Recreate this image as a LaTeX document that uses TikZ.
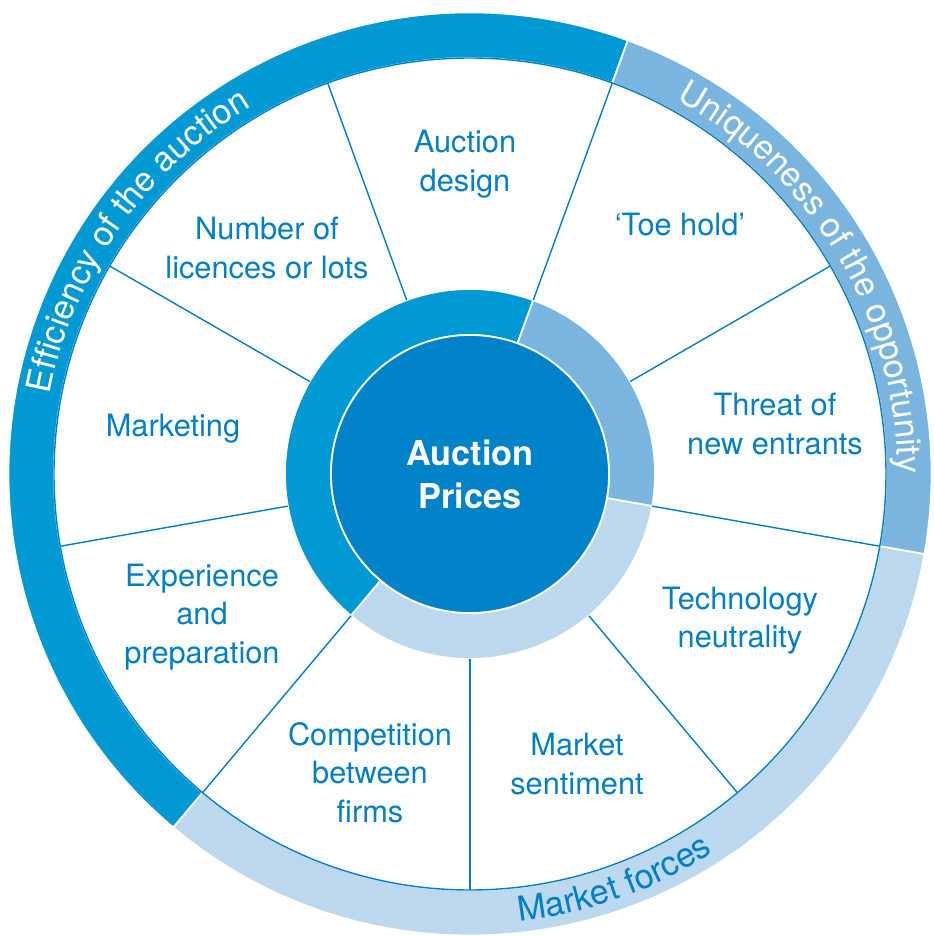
\documentclass[tikz,border=0pt]{standalone}
\usepackage{fontspec}
\setmainfont{TeX Gyre Heros}
\usepackage{tikz}
\usetikzlibrary{decorations.text}
\definecolor{ringdark}{RGB}{0, 153, 212}
\definecolor{ringmid}{RGB}{122, 181, 223}
\definecolor{ringlight}{RGB}{188, 216, 238}
\definecolor{coreblue}{RGB}{0, 130, 200}
\definecolor{labelblue}{RGB}{0, 127, 198}

\begin{document}
\begin{tikzpicture}[
      lbl/.style={align=center, text=labelblue, font=\fontsize{17.5}{21.8}\selectfont},
      core/.style={circle, fill=coreblue, draw=white, line width=1pt,
                   minimum size=5.56cm, inner sep=0pt, align=center,
                   text=white, font=\fontsize{19.5}{24.4}\selectfont\bfseries},
      spoke/.style={draw=labelblue, line width=0.8pt},
      ringtext/.style={decorate, decoration={text along path, text align=center,
                       text color=#1}}
    ]
    \useasboundingbox (-9.4,-9.24) rectangle (9.28,9.48);

    % outer and middle rings, same three sectors
    \foreach \from/\to/\col in {70/230/ringdark, -10/70/ringmid, -130/-10/ringlight}{
      \filldraw[fill=\col, draw=white, line width=1pt]
        (\from:9.23) arc[start angle=\from, end angle=\to, radius=9.23]
        -- (\to:8.32) arc[start angle=\to, end angle=\from, radius=8.32] -- cycle;
      \filldraw[fill=\col, draw=white, line width=1pt]
        (\from:3.7) arc[start angle=\from, end angle=\to, radius=3.7]
        -- (\to:2.78) arc[start angle=\to, end angle=\from, radius=2.78] -- cycle;
    }
    \draw[spoke] (0,0) circle[radius=8.32];
    \foreach \ang in {-90,-50,...,230}
      \draw[spoke] (\ang:3.7) -- (\ang:8.32);

    \node[core] (prices) at (0,0) {Auction\\Prices};

    \node[lbl] (design)      at (-0.1, 6.2)   {Auction\\design};
    \node[lbl] (toehold)     at (4.2, 4.98)   {`Toe hold'};
    \node[lbl] (lots)        at (-4.06, 4.52) {Number of\\licences or lots};
    \node[lbl] (marketing)   at (-5.94, 0.9)  {Marketing};
    \node[lbl] (entrants)    at (6.1, 1.0)    {Threat of\\new entrants};
    \node[lbl] (neutrality)  at (5.4, -2.93)  {Technology\\neutrality};
    \node[lbl] (sentiment)   at (2.14, -5.8)  {Market\\sentiment};
    \node[lbl] (competition) at (-2.0, -5.97) {Competition\\between\\firms};
    \node[lbl] (experience)  at (-5.36, -2.86) {Experience\\and\\preparation};

    % text on the outer ring
    \path[ringtext=white, decoration={text={|\fontsize{19.5}{23}\selectfont|Efficiency of the auction}}]
      (190:8.55) arc[start angle=190, end angle=100, radius=8.55];
    \path[ringtext=white, decoration={text={|\fontsize{19.5}{23}\selectfont|Uniqueness of the opportunity}}]
      (75.6:8.55) arc[start angle=75.6, end angle=-14.4, radius=8.55];
    \path[ringtext=labelblue, decoration={text={|\fontsize{19.5}{23}\selectfont|Market forces}}]
      (-115.5:9.0) arc[start angle=-115.5, end angle=-25.5, radius=9.0];
  \end{tikzpicture}
\end{document}
